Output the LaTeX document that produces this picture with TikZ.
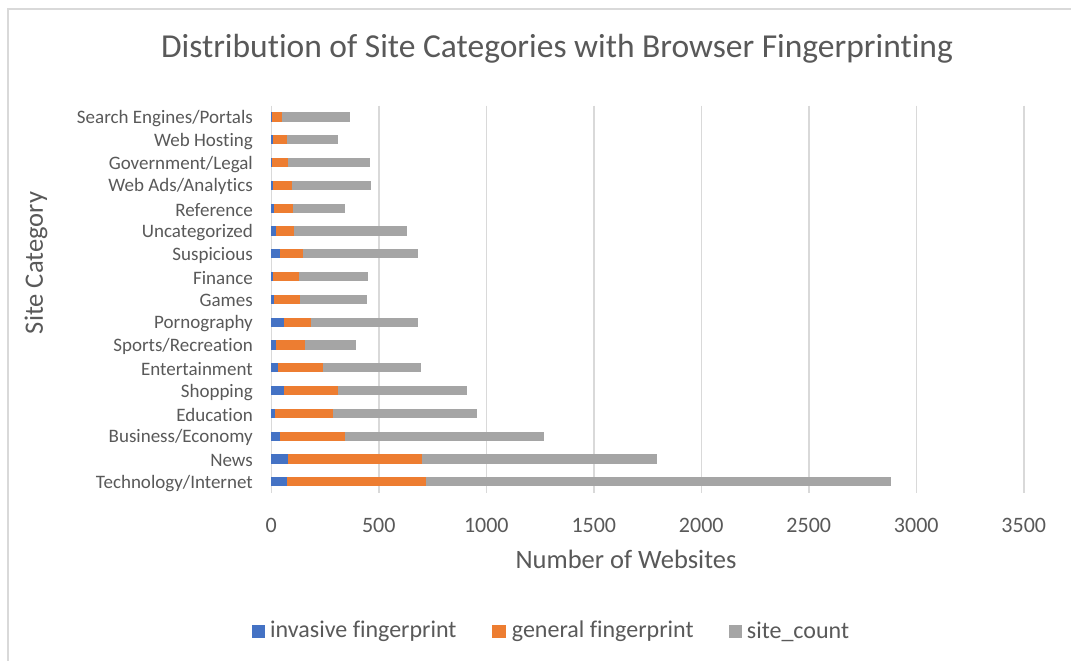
\documentclass[tikz,border=0pt]{standalone}
\usepackage{fontspec}
\setmainfont{Carlito}[Ligatures={NoCommon}]
\definecolor{inv}{HTML}{4472C4}
\definecolor{gen}{HTML}{ED7D31}
\definecolor{site}{HTML}{A5A5A5}
\definecolor{txt}{HTML}{595959}
\definecolor{gridc}{HTML}{D9D9D9}
\begin{document}
\begin{tikzpicture}[x=1pt,y=-1pt,
  catlabel/.style={anchor=east,text=txt,font=\fontsize{19}{22}\selectfont,inner sep=0pt},
  ticklabel/.style={anchor=center,text=txt,font=\fontsize{22}{26}\selectfont,inner sep=0pt},
  axtitle/.style={anchor=center,text=txt,font=\fontsize{26.5}{30}\selectfont,inner sep=0pt},
  legtext/.style={anchor=west,text=txt,font=\fontsize{24}{28}\selectfont,inner sep=0pt},
  gridline/.style={draw=gridc,line width=1.5pt},
  legbox/.style={minimum width=13.5pt,minimum height=13.5pt,inner sep=0pt,anchor=center}]
\useasboundingbox (0,0) rectangle (1071,661);
\fill[white] (0,0) rectangle (1071,661);
\draw[gridc,line width=1.3pt] (8,700) -- (8,9) -- (1100,9);
% title
\node[anchor=center,text=txt,font=\fontsize{33.5}{38}\selectfont,inner sep=0pt] (title) at (557,49) {Distribution of Site Categories with Browser Fingerprinting};
% grid
\foreach \k in {1,...,7}
  \draw[gridline] ({271.3+107.5*\k},105.6) -- ++(0,387.6);
\draw[gridline] (271.3,105.6) -- (271.3,493.2);
% tick labels
\foreach \k in {0,500,...,3500}
  \node[ticklabel] (tick\k) at ({271.3+0.215*\k},525.5) {\k};
% bars
\foreach \i/\lab/\b/\o/\g in {
  0/{Search Engines/Portals}/3.3/48.4/364.7,
  1/{Web Hosting}/9.3/73/311.6,
  2/{Government/Legal}/1.9/79/460.5,
  3/{Web Ads/Analytics}/9.3/94.9/463.7,
  4/{Reference}/14/102.3/342.8,
  5/{Uncategorized}/20.5/107/632.6,
  6/{Suspicious}/40.5/147.4/682.3,
  7/{Finance}/6.5/128.8/448.4,
  8/{Games}/14/134.9/446.5,
  9/{Pornography}/57.7/186/682.3,
  10/{Sports/Recreation}/20.5/156.7/395.3,
  11/{Entertainment}/31.2/240.5/694,
  12/{Shopping}/60.5/310.2/910,
  13/{Education}/17.2/287/959,
  14/{Business/Economy}/41.9/342.8/1268,
  15/{News}/79/701/1794,
  16/{Technology/Internet}/73/719.5/2882}{
  \pgfmathsetmacro{\yy}{117+22.8*\i}
  \node[catlabel] (cat\i) at (253,\yy+1.5) {\lab};
  \begin{scope}[shift={(271.3,\yy)},x=0.215pt]
    \fill[site] (\o,-4.6) rectangle (\g,4.6);
    \fill[gen] (\b,-4.6) rectangle (\o,4.6);
    \fill[inv] (0,-4.6) rectangle (\b,4.6);
  \end{scope}
}
% axis titles
\node[axtitle] (xtitle) at (626,559) {Number of Websites};
\node[axtitle,rotate=90] (ytitle) at (36,263) {Site Category};
% legend
\node[legbox,fill=inv] (linv) at (258.3,631.7) {};
\node[legtext] (tinv) at (270,631.7) {invasive fingerprint};
\node[legbox,fill=gen] (lgen) at (499,631.7) {};
\node[legtext] (tgen) at (511.7,631.7) {general fingerprint};
\node[legbox,fill=site] (lsite) at (735.3,631.7) {};
\node[legtext] (tsite) at (746.7,631.7) {site\_count};
\end{tikzpicture}
\end{document}
